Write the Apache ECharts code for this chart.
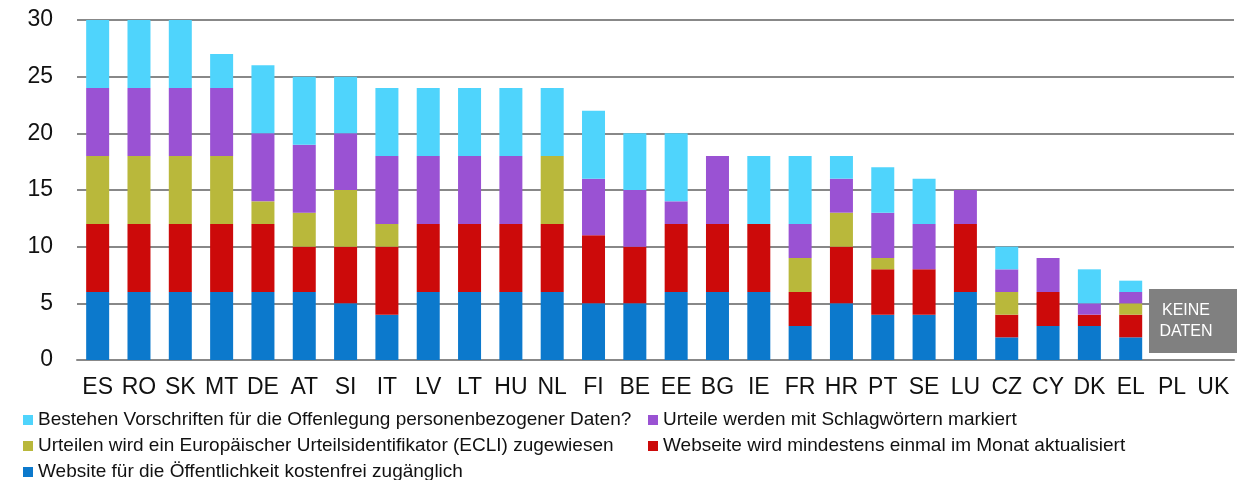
<!DOCTYPE html>
<html>
<head>
<meta charset="utf-8">
<script src="https://cdn.jsdelivr.net/npm/echarts@6/dist/echarts.min.js"></script>
<style>html,body{margin:0;padding:0;background:#fff}#c{width:1237px;height:480px}</style>
</head>
<body>
<div id="c"></div>
<script>
const categories = ['ES','RO','SK','MT','DE','AT','SI','IT','LV','LT','HU','NL','FI','BE','EE','BG','IE','FR','HR','PT','SE','LU','CZ','CY','DK','EL','PL','UK'];
const seriesNames = [
  'Website für die Öffentlichkeit kostenfrei zugänglich',
  'Webseite wird mindestens einmal im Monat aktualisiert',
  'Urteilen wird ein Europäischer Urteilsidentifikator (ECLI) zugewiesen',
  'Urteile werden mit Schlagwörtern markiert',
  'Bestehen Vorschriften für die Offenlegung personenbezogener Daten?'
];
const websiteFree = [6,6,6,6,6,6,5,4,6,6,6,6,5,5,6,6,6,3,5,4,4,6,2,3,3,2,'-','-'];
const updatedMonthly = [6,6,6,6,6,4,5,6,6,6,6,6,6,5,6,6,6,3,5,4,4,6,2,3,1,2,'-','-'];
const ecli = [6,6,6,6,2,3,5,2,0,0,0,6,0,0,0,0,0,3,3,1,0,0,2,0,0,1,'-','-'];
const keywords = [6,6,6,6,6,6,5,6,6,6,6,0,5,5,2,6,0,3,3,4,4,3,2,3,1,1,'-','-'];
const privacyRules = [6,6,6,3,6,6,5,6,6,6,6,6,6,5,6,0,6,6,2,4,4,0,2,0,3,1,'-','-'];
const yTicks = [0,5,10,15,20,25,30];
const colors = ['#0c79cc','#cc0a0a','#b9b83b','#9a52d3','#4fd4fc'];
const noDataText = 'KEINE\nDATEN';

const chart = echarts.init(document.getElementById('c'), null, {renderer:'canvas'});
const values = [websiteFree, updatedMonthly, ecli, keywords, privacyRules];
const series = values.map((v,i)=>({
  name: seriesNames[i], type:'bar', stack:'total', data:v, barWidth:23,
  itemStyle:{color:colors[i]}, animation:false
}));
const legendText = {fontFamily:'Liberation Sans, Arial, sans-serif', fontSize:19, color:'#111', lineHeight:20};
chart.setOption({
  animation:false,
  grid:{left:77, right:3, top:20, bottom:120},
  xAxis:{type:'category', data:categories,
    axisLine:{lineStyle:{color:'#888', width:2}}, axisTick:{show:false},
    axisLabel:{color:'#111', fontSize:23, fontFamily:'Liberation Sans, Arial, sans-serif', margin:16, interval:0}},
  yAxis:{type:'value', min:yTicks[0], max:yTicks[yTicks.length-1], interval:5,
    axisLine:{show:false}, axisTick:{show:false},
    splitLine:{lineStyle:{color:'#888', width:2}},
    axisLabel:{color:'#111', fontSize:23, fontFamily:'Liberation Sans, Arial, sans-serif', margin:24}},
  legend:[
    {left:23, top:410, height:90, orient:'vertical', padding:0, itemWidth:10, itemHeight:10, itemGap:6,
     icon:'rect', data:[seriesNames[4], seriesNames[2], seriesNames[0]], textStyle:legendText, selectedMode:false},
    {left:648, top:410, height:90, orient:'vertical', padding:0, itemWidth:10, itemHeight:10, itemGap:6,
     icon:'rect', data:[seriesNames[3], seriesNames[1]], textStyle:legendText, selectedMode:false}
  ],
  series
});
const pPL = chart.convertToPixel({gridIndex:0}, ['PL', 6.27]);
const pBot = chart.convertToPixel({gridIndex:0}, ['PL', 0.62]);
const bx = pPL[0]-23, by = pPL[1], bh = pBot[1]-pPL[1];
chart.setOption({graphic:[
  {type:'rect', shape:{x:bx, y:by, width:1237-bx, height:bh}, style:{fill:'#808080'}, z:10},
  {type:'text', x:bx+37, y:by+bh/2, z:11, style:{text:noDataText, fill:'#fff', fontSize:16,
    fontFamily:'Liberation Sans, Arial, sans-serif', align:'center', verticalAlign:'middle', lineHeight:21}}
]});
</script>
</body>
</html>
